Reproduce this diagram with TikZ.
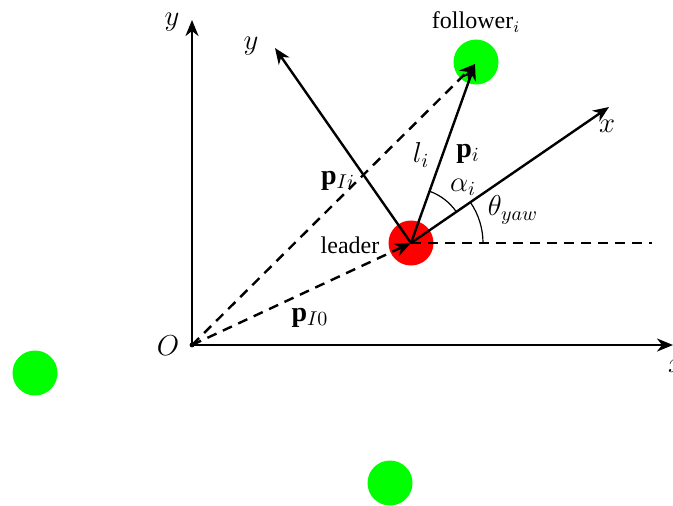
\documentclass[tikz,border=0pt]{standalone}
\usepackage{fontspec}
\setmainfont{Liberation Serif}
\usetikzlibrary{arrows.meta}
\begin{document}
\begin{tikzpicture}[x=0.5pt,y=-0.5pt,
  axis/.style={line width=1.2pt,-{Stealth[length=8pt,width=6.5pt,inset=2.5pt]}},
  dsh/.style={line width=1.2pt,dash pattern=on 5pt off 3.5pt},
  lbl/.style={font=\fontsize{12pt}{14pt}\selectfont,inner sep=0pt},
  mlbl/.style={font=\fontsize{14pt}{16pt}\selectfont,inner sep=0pt},
  robot/.style={circle,inner sep=0pt,minimum size=22.5pt}]
\useasboundingbox (0,0) rectangle (673,505);
% robots
\node[robot,fill=red] (L) at (411,243) {};
\node[robot,fill=green] (F) at (476,62) {};
\node[robot,fill=green] (G1) at (35,373) {};
\node[robot,fill=green] (G2) at (390,483) {};
\coordinate (Lc) at (411,243);
\coordinate (Fc) at (475,64);
% global frame
\coordinate (O) at (192,345);
\coordinate (Ytip) at (192,20);
\coordinate (Xtip) at (673,345);
\draw[axis] (O) -- (Ytip);
\draw[axis] (O) -- (Xtip);
\fill (O) circle (1.2pt);
\node[mlbl] (ly) at (172,22) {$y$};
\node[mlbl] (lO) at (168,346) {$O$};
\node[mlbl] (lx) at (676,366) {$x$};
% local frame
\coordinate (yl) at (275,48);
\coordinate (xl) at (609,107);
\draw[axis] (Lc) -- (yl);
\draw[axis] (Lc) -- (xl);
\node[mlbl] (lyl) at (251,46) {$y$};
\node[mlbl] (lxl) at (607,126) {$x$};
% dashed
\coordinate (hd) at (652,243);
\draw[dsh] (Lc) -- (hd);
\draw[dsh,-{Stealth[length=8pt,width=6.5pt,inset=2.5pt]}] (O) -- (Lc);
\draw[dsh,-{Stealth[length=8pt,width=6.5pt,inset=2.5pt]}] (O) -- (Fc);
% p_i
\draw[axis] (Lc) -- (Fc);
% angle arcs
\draw[line width=0.6pt] (Lc) ++(0:72) arc[start angle=0,end angle=-34.5,radius=72];
\draw[line width=0.6pt] (Lc) ++(-34.5:55) arc[start angle=-34.5,end angle=-70.2,radius=55];
% labels
\node[lbl] (lfol) at (476,22) {follower$_i$};
\node[lbl] (llead) at (350,245) {leader};
\node[mlbl] (lli) at (421,155) {$l_i$};
\node[mlbl] (lpi) at (468,154) {$\mathbf{p}_i$};
\node[mlbl] (lal) at (463,187) {$\alpha_i$};
\node[mlbl] (lth) at (513,210) {$\theta_{yaw}$};
\node[mlbl] (lpIi) at (338,181) {$\mathbf{p}_{Ii}$};
\node[mlbl] (lpI0) at (310,318) {$\mathbf{p}_{I0}$};
\end{tikzpicture}
\end{document}
